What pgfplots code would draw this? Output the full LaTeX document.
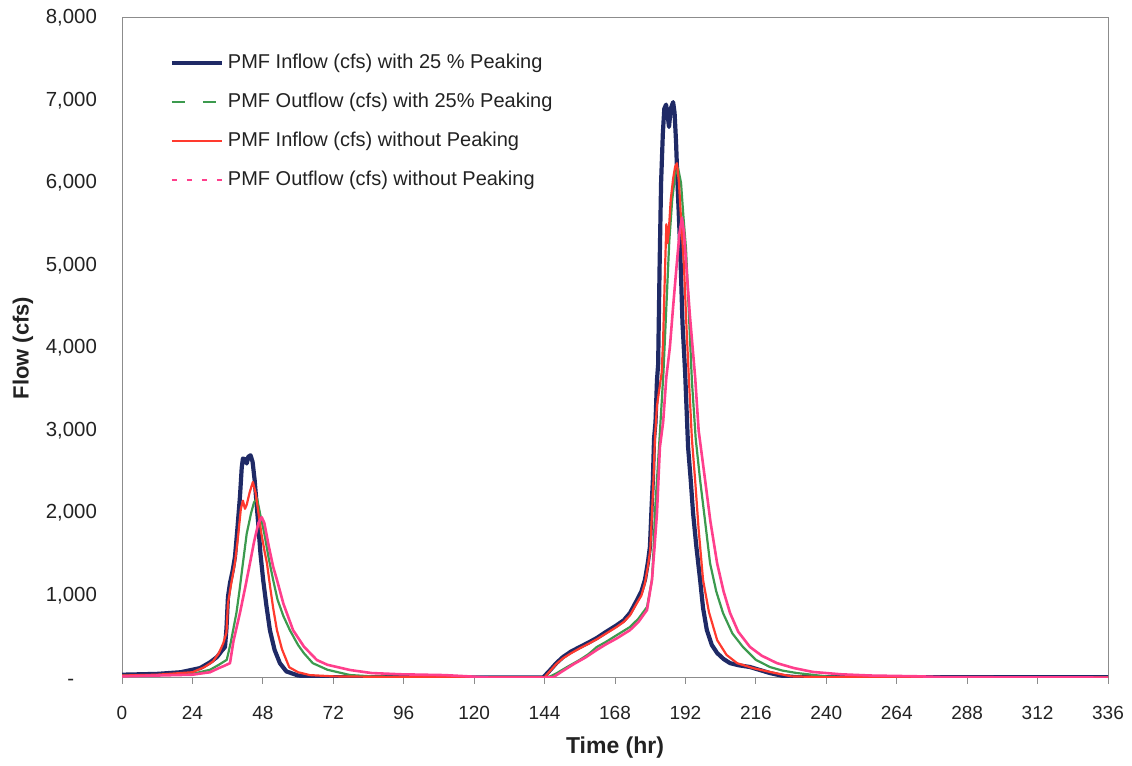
\documentclass[border=0pt]{standalone}
\usepackage{pgfplots}
\pgfplotsset{compat=1.18}
\usepackage{fontspec}
\setmainfont{Liberation Sans}

\definecolor{inpk}{HTML}{1F2A66}
\definecolor{outpk}{HTML}{3C9A4E}
\definecolor{innp}{HTML}{FF3A2E}
\definecolor{outnp}{HTML}{FF3F8C}
\definecolor{frame}{HTML}{8C8C8C}
\definecolor{txt}{HTML}{222222}

\begin{document}
\begin{tikzpicture}
\begin{axis}[
    scale only axis,
    width=493pt, height=330pt,
    xmin=0, xmax=336, ymin=0, ymax=8000,
    xtick={0,24,...,336},
    ytick={0,1000,...,8000},
    yticklabels={{-\phantom{00}},{1,000},{2,000},{3,000},{4,000},{5,000},{6,000},{7,000},{8,000}},
    /pgf/number format/assume math mode=true,
    axis line style={frame, line width=0.5pt},
    xtick pos=bottom, ytick pos=left,
    tick align=outside,
    major tick length=3pt,
    xtick style={frame, line width=0.5pt},
    ytick style={draw=none},
    xticklabel style={font=\fontsize{9.5}{11}\selectfont, text=txt, yshift=-7.5pt},
    yticklabel style={font=\fontsize{10.2}{12}\selectfont, text=txt, xshift=-6pt},
    legend style={at={(0.048,0.952)}, anchor=north west, draw=none, fill=none,
        font=\fontsize{10}{12}\selectfont, text=txt, row sep=6.8pt,
        inner sep=0pt, /tikz/every even column/.append style={column sep=0pt}},
    legend cell align=left,
    legend image code/.code={\draw[#1] (0pt,0pt) -- (25pt,0pt);},
]
\addplot[inpk, line width=2.1pt, line join=round] coordinates {
(0,40) (12,50) (20,70) (26.6,120) (30,190) (32.4,255) (34,330) (35.1,376)
(35.6,600) (36.1,980) (36.8,1150) (37.7,1300) (38.5,1470) (39.3,1800)
(40.2,2200) (40.8,2550) (41.2,2660) (42,2650) (42.5,2600) (43,2680)
(43.8,2700) (44.5,2620) (45.2,2400) (46.4,1880) (47.2,1500) (48.1,1190)
(49.2,880) (50.4,580) (52,340) (53.8,180) (56,80) (60,30) (66,10) (143.5,5)
(146,100) (148,180) (150.3,255) (153,320) (156,376) (159,430) (161.8,485)
(165,560) (168.6,640) (171,700) (173.1,788) (175.5,945) (177,1050)
(178.2,1190) (179.2,1400) (179.9,1590) (180.5,2100) (180.9,2400)
(181.3,2900) (181.8,3100) (182.3,3610) (182.7,3800) (183.2,5000)
(183.7,6000) (184.3,6600) (184.8,6900) (185.4,6950) (186,6800)
(186.4,6680) (187,6900) (187.8,6980) (188.3,6850) (188.8,6500)
(189.3,6000) (190.2,5220) (191,4300) (191.9,3700) (192.9,2800)
(193.8,2400) (194.6,2000) (195.7,1600) (197,1190) (198,850) (199.3,580)
(201,400) (202.8,303) (205,230) (207.2,180) (210,155) (214,133) (218,90)
(220.8,60) (225.3,24) (230,10) (336,10)
};
\addlegendentry{PMF Inflow (cfs) with 25 \% Peaking}
\addplot[outpk, line width=1.1pt, line join=round,
    legend image post style={dash pattern=on 6.5pt off 9pt}] coordinates {
(0,30) (12,35) (24,50) (30,100) (33,160) (35.7,220) (37,420) (39,790)
(40,1050) (41.2,1390) (42.5,1750) (44,2000) (45,2130) (46,2180) (47,2000)
(48.5,1750) (50,1450) (51.5,1190) (53,950) (55,750) (57.2,580) (60,400)
(62,300) (65,180) (70,100) (77.7,36) (85,20) (100,10) (144,10) (146,20)
(148.2,60) (152,140) (156,220) (159,290) (161.8,376) (165,440) (168.6,520)
(173.1,618) (176,720) (178.9,860) (180.6,1190) (181.2,1600) (181.6,2000)
(183,2800) (184.5,3700) (185.5,4500) (186.5,5300) (187.5,5800) (188.5,6100)
(189.5,6180) (190.5,6000) (191.3,5600) (192.2,5200) (193.2,4400)
(194.2,3600) (195.5,2900) (197,2400) (198.7,1900) (200.4,1390)
(202.5,1050) (204.8,788) (208,540) (211.6,376) (216,220) (220.8,133)
(225,90) (230,60) (240,20) (250,10) (336,5)
};
\addlegendentry{PMF Outflow (cfs) with 25\% Peaking}
\addplot[innp, line width=1.1pt, line join=round] coordinates {
(0,30) (12,40) (24,70) (28,130) (31,200) (33,300) (34.5,420) (35.6,550)
(36.1,900) (37,1100) (38.5,1400) (39.5,1700) (40.5,2050) (41.2,2150)
(41.9,2050) (42.5,2100) (43.5,2250) (44.6,2376) (45.5,2250) (46.5,2000)
(47.5,1750) (48.5,1550) (49.4,1390) (50.5,1100) (51.5,850) (52.8,580)
(54.5,350) (57,130) (60,70) (64,35) (72,20) (100,10) (144,10) (146,90)
(148,170) (150.3,240) (153,300) (156,360) (159,415) (161.8,470) (165,540)
(168.6,620) (171,680) (173.1,760) (175.5,910) (177,1000) (178.2,1150)
(179.2,1350) (180,1550) (180.6,2000) (181.1,2400) (181.6,2900)
(182.3,3300) (183.9,3700) (184.4,4100) (185,4900) (185.5,5500)
(185.9,5270) (186.3,5400) (187,5800) (187.8,6050) (188.5,6200)
(189.1,6240) (189.8,6000) (190.6,5500) (191.5,5000) (192.3,4300)
(193.2,3610) (194.2,2900) (195.3,2400) (196.5,1800) (198,1190) (200,800)
(202.8,460) (206,280) (209.6,180) (215,120) (220.8,73) (228,20) (240,10)
(336,5)
};
\addlegendentry{PMF Inflow (cfs) without Peaking}
\addplot[outnp, line width=1.3pt, line join=round,
    legend image post style={dash pattern=on 2.5pt off 5pt}] coordinates {
(0,20) (12,30) (24,40) (30,70) (33,120) (35,150) (36.8,180) (38,450)
(40.2,790) (42,1100) (43.6,1390) (45,1650) (46.5,1880) (47.6,1950)
(48.5,1880) (50,1600) (51.5,1350) (52.8,1190) (55,900) (58.3,580) (62,380)
(66.4,218) (70,160) (77.7,97) (85,60) (95,45) (110,35) (118,20) (125,5)
(144,5) (147,10) (150,80) (154,170) (158,250) (161.8,340) (165,410)
(168.6,480) (173.1,580) (176,680) (178.9,824) (180.6,1190) (181.5,1600)
(182.3,2000) (183.3,2800) (184.4,3100) (185.5,3650) (186.7,4010)
(187.8,4500) (189,5000) (190,5400) (190.8,5580) (191.5,5400) (192.5,4900)
(193.5,4400) (195.3,3650) (196.5,3000) (198.7,2400) (200.5,1900)
(202.8,1390) (205,1050) (207.2,788) (210,560) (214,376) (218,270)
(223.2,180) (229,120) (235.5,73) (245,45) (255,30) (272,20) (280,10)
(336,5)
};
\addlegendentry{PMF Outflow (cfs) without Peaking}
\end{axis}
\node[font=\bfseries\fontsize{11.5}{13}\selectfont, text=txt] at ([yshift=-35pt]current axis.south) {Time (hr)};
\node[font=\bfseries\fontsize{11}{13}\selectfont, text=txt, rotate=90] at ([xshift=-49.5pt]current axis.west) {Flow (cfs)};
\path (current axis.south west) ++(-61pt,-42.5pt);
\path (current axis.north east) ++(12pt,9pt);
\end{tikzpicture}
\end{document}
